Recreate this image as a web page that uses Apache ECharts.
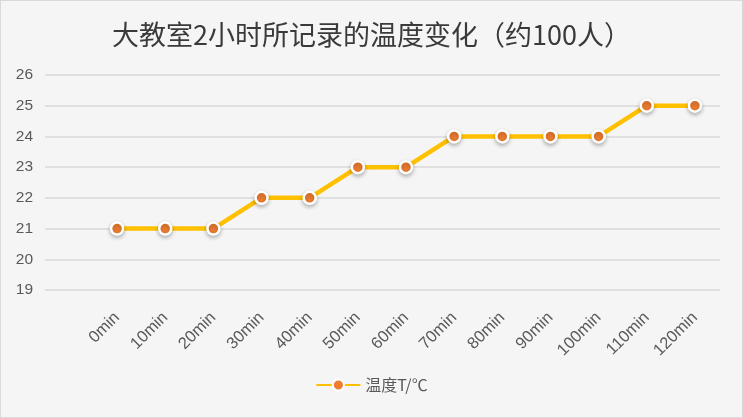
<!DOCTYPE html>
<html><head><meta charset="utf-8">
<script src="https://cdn.jsdelivr.net/npm/echarts@6/dist/echarts.min.js"></script>
<style>html,body{margin:0;padding:0;background:#fff}#c{width:741px;height:416px;border:1px solid #d9d9d9;background:#f5f5f5}</style>
</head><body><div id="c"></div>
<script>
var categories = ['0min','10min','20min','30min','40min','50min','60min','70min','80min','90min','100min','110min','120min'];
var temperature = [21,21,21,22,22,23,23,24,24,24,24,25,25];
var seriesName = '温度T/℃';
var titleText = '大教室2小时所记录的温度变化（约100人）';

var chart = echarts.init(document.getElementById('c'));
chart.setOption({
  backgroundColor: '#f5f5f5',
  animation: false,
  title: {text: titleText, left: 'center', top: 15,
    textStyle: {fontFamily: 'Noto Sans CJK SC', fontSize: 27, fontWeight: 'normal', color: '#3a3a3a'}},
  legend: {bottom: 19, left: 'center', itemWidth: 44, itemHeight: 14, itemGap: 6,
    data: [seriesName],
    textStyle: {fontFamily: 'Noto Sans CJK SC', fontSize: 16, color: '#595959'}},
  grid: [
    {left: 44, right: 22, top: 74, bottom: 127},
    {left: 92, right: 23, top: 74, bottom: 127}
  ],
  xAxis: [
    {gridIndex: 0, type: 'category', data: categories, show: false},
    {gridIndex: 1, type: 'category', data: categories, boundaryGap: true,
      axisLine: {show: false}, axisTick: {show: false}, splitLine: {show: false},
      axisLabel: {rotate: 45, margin: 25, color: '#595959', fontSize: 16.5, fontFamily: 'Liberation Sans', interval: 0}}
  ],
  yAxis: [
    {gridIndex: 0, type: 'value', min: 19, max: 26, interval: 1,
      axisLine: {show: false}, axisTick: {show: false},
      axisLabel: {color: '#595959', fontSize: 15.5, margin: 12, fontFamily: 'Liberation Sans'},
      splitLine: {lineStyle: {color: '#d9d9d9', width: 1.5}}},
    {gridIndex: 1, type: 'value', min: 19, max: 26, interval: 1, show: false, splitLine: {show: false}}
  ],
  series: [{
    name: seriesName, type: 'line', xAxisIndex: 1, yAxisIndex: 1,
    data: temperature, symbol: 'circle', symbolSize: 12,
    lineStyle: {color: '#FFC000', width: 4.5},
    itemStyle: {color: '#ED7D31', borderColor: '#ffffff', borderWidth: 2.5,
      shadowColor: 'rgba(0,0,0,0.25)', shadowBlur: 4, shadowOffsetY: 2},
    color: '#FFC000'
  }]
});
</script></body></html>
